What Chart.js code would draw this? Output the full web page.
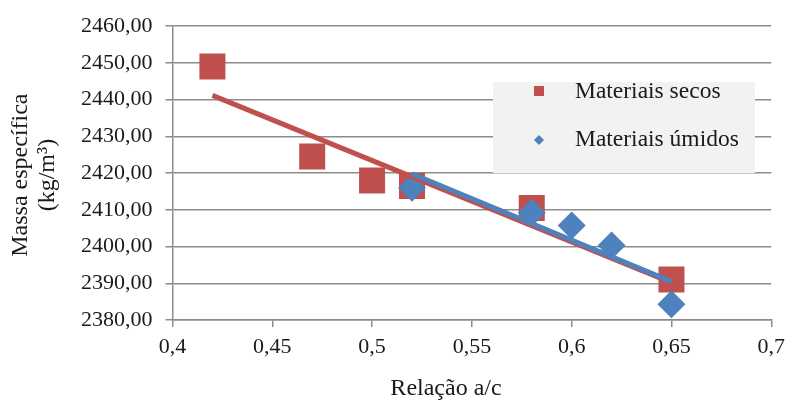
<!DOCTYPE html>
<html>
<head>
<meta charset="utf-8">
<script src="https://cdn.jsdelivr.net/npm/chart.js@4.4.1/dist/chart.umd.min.js"></script>
<style>
html,body{margin:0;padding:0;background:#fff;}
#wrap{width:792px;height:403px;position:relative;}
</style>
</head>
<body>
<div id="wrap"><canvas id="c" width="792" height="403"></canvas></div>
<script>
// ---- data ----
const secosX = [0.42, 0.47, 0.50, 0.52, 0.58, 0.65];
const secosY = [2449.0, 2424.5, 2418.0, 2416.5, 2410.5, 2391.0];
const umidosX = [0.52, 0.58, 0.60, 0.62, 0.65];
const umidosY = [2416.0, 2409.2, 2405.7, 2400.3, 2384.3];
const seriesNames = ['Materiais secos', 'Materiais úmidos'];
const xTickLabels = ['0,4', '0,45', '0,5', '0,55', '0,6', '0,65', '0,7'];
const yTickLabels = ['2380,00', '2390,00', '2400,00', '2410,00', '2420,00', '2430,00', '2440,00', '2450,00', '2460,00'];
const xTitle = 'Relação a/c';
const yTitle = ['Massa específica', '(kg/m³)'];

const RED = '#c0504d', BLUE = '#4f81bd';
const FONT = "'Liberation Serif', 'Times New Roman', serif";

function pts(xs, ys) { return xs.map((x, i) => ({x: x, y: ys[i]})); }
function trend(xs, ys) {
  const n = xs.length;
  const mx = xs.reduce((a, b) => a + b, 0) / n;
  const my = ys.reduce((a, b) => a + b, 0) / n;
  let sxy = 0, sxx = 0;
  for (let i = 0; i < n; i++) { sxy += (xs[i] - mx) * (ys[i] - my); sxx += (xs[i] - mx) ** 2; }
  const b = sxy / sxx, a = my - b * mx;
  const x0 = Math.min(...xs), x1 = Math.max(...xs);
  return [{x: x0, y: a + b * x0}, {x: x1, y: a + b * x1}];
}

const overlay = {
  id: 'overlay',
  afterDraw(chart) {
    const ctx = chart.ctx;
    const ca = chart.chartArea;
    ctx.save();
    ctx.fillStyle = '#1a1a1a';
    ctx.font = '24px ' + FONT;
    ctx.textBaseline = 'middle';
    // x title
    ctx.textAlign = 'center';
    ctx.fillText(xTitle, 446, 389);
    // y title
    ctx.save();
    ctx.translate(21, (ca.top + ca.bottom) / 2 + 2);
    ctx.rotate(-Math.PI / 2);
    yTitle.forEach((t, i) => ctx.fillText(t, 0, i * 27));
    ctx.restore();
    // legend
    const lx = 493, ly = 82, lw = 262, lh = 91;
    ctx.fillStyle = '#f2f2f2';
    ctx.fillRect(lx, ly, lw, lh);
    ctx.fillStyle = RED;
    ctx.fillRect(534, 86, 10, 10);
    ctx.fillStyle = BLUE;
    ctx.beginPath();
    ctx.moveTo(539, 135); ctx.lineTo(544, 140); ctx.lineTo(539, 145); ctx.lineTo(534, 140); ctx.closePath();
    ctx.fill();
    ctx.fillStyle = '#1a1a1a';
    ctx.font = '23.5px ' + FONT;
    ctx.textAlign = 'left';
    ctx.fillText(seriesNames[0], 575, 92);
    ctx.fillText(seriesNames[1], 575, 140);
    ctx.restore();
  }
};

new Chart(document.getElementById('c'), {
  type: 'scatter',
  data: {
    datasets: [
      {label: seriesNames[1] + ' trend', type: 'line', data: trend(umidosX, umidosY), borderColor: BLUE, borderWidth: 5, pointRadius: 0, fill: false, order: 0},
      {label: seriesNames[0] + ' trend', type: 'line', data: trend(secosX, secosY), borderColor: RED, borderWidth: 5, pointRadius: 0, fill: false, order: 1},
      {label: seriesNames[1], data: pts(umidosX, umidosY), pointStyle: 'rectRot', pointRadius: 14, pointHoverRadius: 14, backgroundColor: BLUE, borderColor: BLUE, borderWidth: 0, order: 2},
      {label: seriesNames[0], data: pts(secosX, secosY), pointStyle: 'rect', pointRadius: 18.4, pointHoverRadius: 18.4, backgroundColor: RED, borderColor: RED, borderWidth: 0, order: 3}
    ]
  },
  options: {
    responsive: false,
    animation: false,
    events: [],
    layout: {padding: {top: 24, right: 19, left: 0, bottom: 0}},
    plugins: {legend: {display: false}, tooltip: {enabled: false}},
    scales: {
      x: {
        type: 'linear', min: 0.4, max: 0.7,
        ticks: {stepSize: 0.05, color: '#1a1a1a', font: {family: FONT, size: 22}, padding: 7, maxRotation: 0,
          callback: (v, i) => xTickLabels[i]},
        grid: {drawOnChartArea: false, drawTicks: true, tickLength: 7, color: '#8c8c8c', lineWidth: 1.5},
        border: {color: '#8c8c8c', width: 1.5},
        afterFit: s => { s.height = 83; }
      },
      y: {
        type: 'linear', min: 2380, max: 2460,
        ticks: {stepSize: 10, color: '#1a1a1a', font: {family: FONT, size: 22}, padding: 13,
          callback: (v, i) => yTickLabels[i]},
        grid: {color: '#8c8c8c', lineWidth: 1.5, tickLength: 7},
        border: {color: '#8c8c8c', width: 1.5},
        afterFit: s => { s.width = 172.5; }
      }
    }
  },
  plugins: [overlay]
});
</script>
</body>
</html>
